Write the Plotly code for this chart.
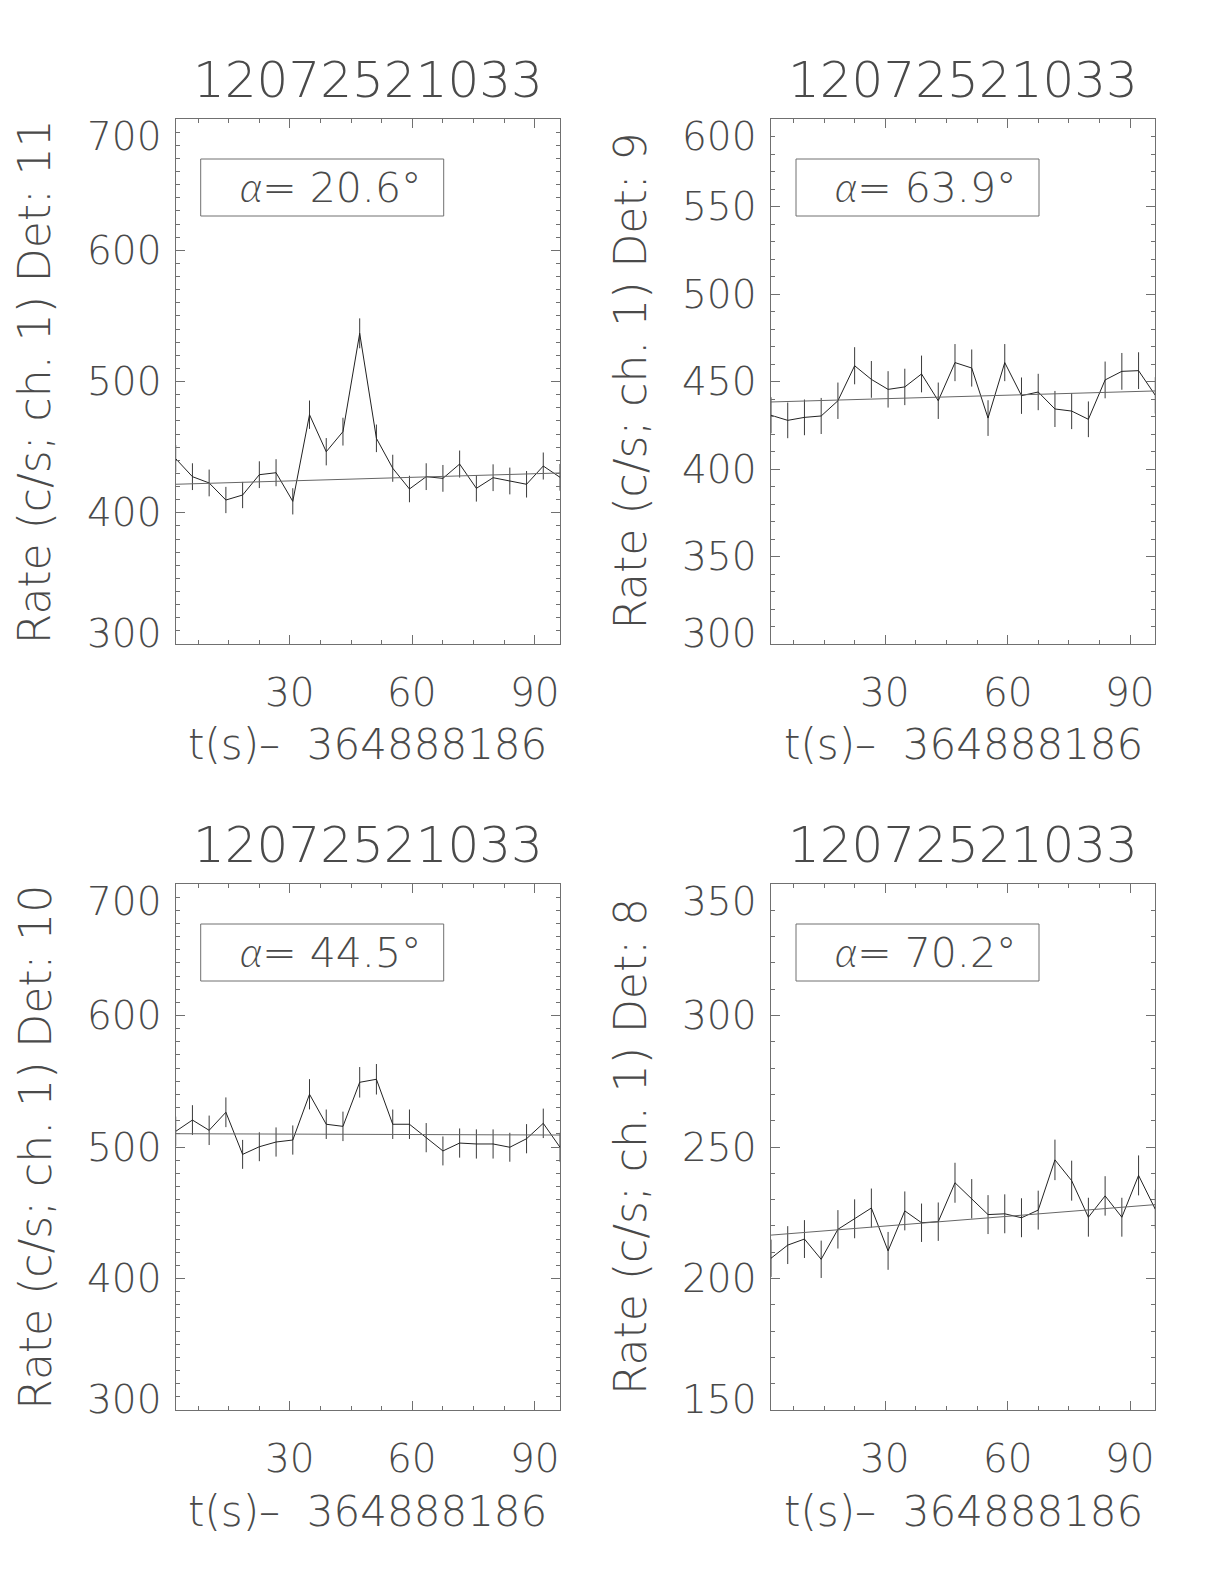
import plotly.graph_objects as go

# page is 1224x1584; the html body has an 8px margin, so the figure is drawn
# 16px smaller and all page-pixel positions are shifted by that margin
PAGE_W, PAGE_H = 1224, 1584
OFF = 8
W, H = PAGE_W - 2 * OFF, PAGE_H - 2 * OFF

# ---- data ----
t = [2.0, 6.1, 10.2, 14.3, 18.4, 22.5, 26.6, 30.7, 34.8, 38.9, 43.0, 47.1,
     51.2, 55.2, 59.3, 63.4, 67.5, 71.6, 75.7, 79.8, 83.9, 88.0, 92.1, 96.2]

obs_id = "12072521033"
t_offset = "364888186"

det_labels = ["11", "9", "10", "8"]
alpha_deg = ["20.6", "63.9", "44.5", "70.2"]

rate_det11 = [441.2, 427.5, 422.7, 409.7, 413.5, 429.0, 430.5, 408.7, 474.7, 446.5, 461.8, 536.7,
              456.7, 433.9, 418.1, 427.5, 426.2, 437.1, 418.6, 426.7, 424.2, 421.7, 435.6, 427.0]
err_det11 = [10.4, 10.2, 10.2, 10.0, 10.0, 10.2, 10.3, 10.0, 10.8, 10.4, 10.6, 11.4,
             10.5, 10.3, 10.1, 10.2, 10.2, 10.3, 10.1, 10.2, 10.2, 10.1, 10.3, 10.2]
fit_det11 = [421.7, 430.3]

rate_det9 = [430.7, 427.8, 429.5, 430.3, 439.0, 459.0, 451.2, 445.5, 446.9, 454.3, 439.0, 460.8,
             457.7, 429.1, 460.8, 441.9, 444.0, 434.3, 433.1, 428.4, 450.9, 455.8, 456.2, 442.1]
err_det9 = [10.3, 10.2, 10.2, 10.3, 10.4, 10.6, 10.5, 10.4, 10.4, 10.5, 10.4, 10.6,
            10.6, 10.2, 10.6, 10.4, 10.4, 10.3, 10.3, 10.2, 10.5, 10.5, 10.5, 10.4]
fit_det9 = [438.3, 444.6]

rate_det10 = [511.9, 520.5, 512.7, 526.4, 494.4, 500.2, 503.8, 505.3, 540.1, 517.3, 515.7, 549.2,
              551.5, 517.3, 517.3, 507.1, 497.0, 503.0, 502.3, 502.3, 499.8, 506.3, 518.0, 499.8]
err_det10 = [11.2, 11.3, 11.2, 11.3, 11.0, 11.0, 11.1, 11.1, 11.5, 11.2, 11.2, 11.6,
             11.6, 11.2, 11.2, 11.1, 11.0, 11.1, 11.1, 11.1, 11.0, 11.1, 11.2, 11.0]
fit_det10 = [510.1, 509.1]

rate_det8 = [207.7, 212.7, 215.0, 207.3, 218.7, 222.7, 226.8, 210.5, 225.7, 221.2, 221.6, 236.4,
             230.3, 224.3, 224.6, 223.1, 226.0, 245.1, 237.2, 223.3, 231.4, 223.3, 239.2, 226.3]
err_det8 = [7.1, 7.2, 7.2, 7.1, 7.3, 7.4, 7.4, 7.2, 7.4, 7.3, 7.3, 7.6,
            7.5, 7.4, 7.4, 7.4, 7.4, 7.7, 7.6, 7.4, 7.5, 7.4, 7.6, 7.4]
fit_det8 = [216.5, 228.1]

y_ranges = [[300, 700], [300, 600], [300, 700], [150, 350]]
y_major = [100, 50, 100, 50]
y_ticks = [[300, 400, 500, 600, 700],
           [300, 350, 400, 450, 500, 550, 600],
           [300, 400, 500, 600, 700],
           [150, 200, 250, 300, 350]]
x_ticks = [30, 60, 90]

rates = [rate_det11, rate_det9, rate_det10, rate_det8]
errs = [err_det11, err_det9, err_det10, err_det8]
fits = [fit_det11, fit_det9, fit_det10, fit_det8]

# ---- styling / layout ----
FONT = "DejaVu Sans"
TXT = "#4a4a4a"
AX = "#707070"
LINE = "#222222"

col_px = [(175.7, 560.0), (771.0, 1155.3)]
row_px = [(119.0, 644.0), (884.0, 1410.0)]
pos = [(0, 0), (1, 0), (0, 1), (1, 1)]  # (col, row)

fig = go.Figure()
annotations = []
shapes = []


def px_x(x):
    return (x - OFF) / W


def px_y(y):
    return 1 - (y - OFF) / H


def font(size):
    return dict(family=FONT, size=size, color=TXT, weight=200)


NB = "\u00a0"

for i in range(4):
    n = i + 1
    xa = "x" if n == 1 else f"x{n}"
    ya = "y" if n == 1 else f"y{n}"
    c, r = pos[i]
    l_px, r_px = col_px[c]
    t_px, b_px = row_px[r]

    fig.add_trace(go.Scatter(
        x=t, y=rates[i], mode="lines", xaxis=xa, yaxis=ya,
        line=dict(color=LINE, width=1),
        error_y=dict(type="data", array=errs[i], visible=True, width=0,
                     thickness=1, color="#3a3a3a"),
        hoverinfo="x+y", showlegend=False))
    fig.add_trace(go.Scatter(
        x=[t[0], t[-1]], y=fits[i], mode="lines", xaxis=xa, yaxis=ya,
        line=dict(color="#666666", width=1), showlegend=False))

    axcommon = dict(showline=True, linecolor=AX, linewidth=1, mirror="ticks",
                    ticks="inside", tickcolor=AX, tickwidth=1,
                    showgrid=False, zeroline=False, showticklabels=False)
    fig.layout[("xaxis" if n == 1 else f"xaxis{n}")] = dict(
        domain=[px_x(l_px), px_x(r_px)], range=[t[0], t[-1]], anchor=ya,
        tick0=0, dtick=30, ticklen=9,
        minor=dict(ticks="inside", ticklen=4, tick0=0, dtick=7.5,
                   tickcolor=AX, tickwidth=1, showgrid=False),
        **axcommon)
    fig.layout[("yaxis" if n == 1 else f"yaxis{n}")] = dict(
        domain=[px_y(b_px), px_y(t_px)], range=y_ranges[i], anchor=xa,
        tick0=y_ranges[i][0], dtick=y_major[i], ticklen=9,
        minor=dict(ticks="inside", ticklen=4, tick0=y_ranges[i][0], dtick=10,
                   tickcolor=AX, tickwidth=1, showgrid=False),
        **axcommon)

    cx = (l_px + r_px) / 2
    # title
    annotations.append(dict(text=obs_id, xref="paper", yref="paper",
                            x=px_x(cx), y=px_y(t_px - 39), xanchor="center",
                            yanchor="middle", showarrow=False, font=font(50)))
    # y tick labels
    for v in y_ticks[i]:
        shift = 0
        if v == y_ranges[i][1]:
            shift = -17
        elif v == y_ranges[i][0]:
            shift = 11
        annotations.append(dict(text=str(v), xref="paper", yref=ya, x=px_x(l_px),
                                y=v, xanchor="right", yanchor="middle", xshift=-13,
                                yshift=shift, showarrow=False, font=font(39)))
    # x tick labels
    for v in x_ticks:
        annotations.append(dict(text=str(v), xref=xa, yref="paper", x=v,
                                y=px_y(b_px + 48), xanchor="center", yanchor="middle",
                                showarrow=False, font=font(39)))
    # x title
    annotations.append(dict(text=f"t(s)\u2013{NB}{NB}{t_offset}", xref="paper", yref="paper",
                            x=px_x(cx), y=px_y(b_px + 101), xanchor="center",
                            yanchor="middle", showarrow=False, font=font(42)))
    # y title
    annotations.append(dict(text=f"Rate (c/s; ch. 1) Det: {det_labels[i]}",
                            xref="paper", yref="paper", x=px_x(l_px - 141),
                            y=px_y((t_px + b_px) / 2), xanchor="center",
                            yanchor="middle", textangle=-90, showarrow=False,
                            font=font(44)))
    # alpha box
    shapes.append(dict(type="rect", xref="paper", yref="paper",
                       x0=px_x(l_px + 25), x1=px_x(l_px + 268),
                       y0=px_y(t_px + 97), y1=px_y(t_px + 40),
                       line=dict(color=AX, width=1), fillcolor="rgba(0,0,0,0)"))
    annotations.append(dict(text=f"<span style='font-family:Lato;font-style:italic;font-weight:300'>\u03b1</span>= {alpha_deg[i]}\u00b0",
                            xref="paper", yref="paper", x=px_x(l_px + 62),
                            y=px_y(t_px + 68), xanchor="left", yanchor="middle",
                            showarrow=False, font=font(41)))

fig.update_layout(width=W, height=H, margin=dict(l=0, r=0, t=0, b=0),
                  paper_bgcolor="white", plot_bgcolor="white", showlegend=False,
                  annotations=annotations, shapes=shapes)

fig.write_html("out.html")
